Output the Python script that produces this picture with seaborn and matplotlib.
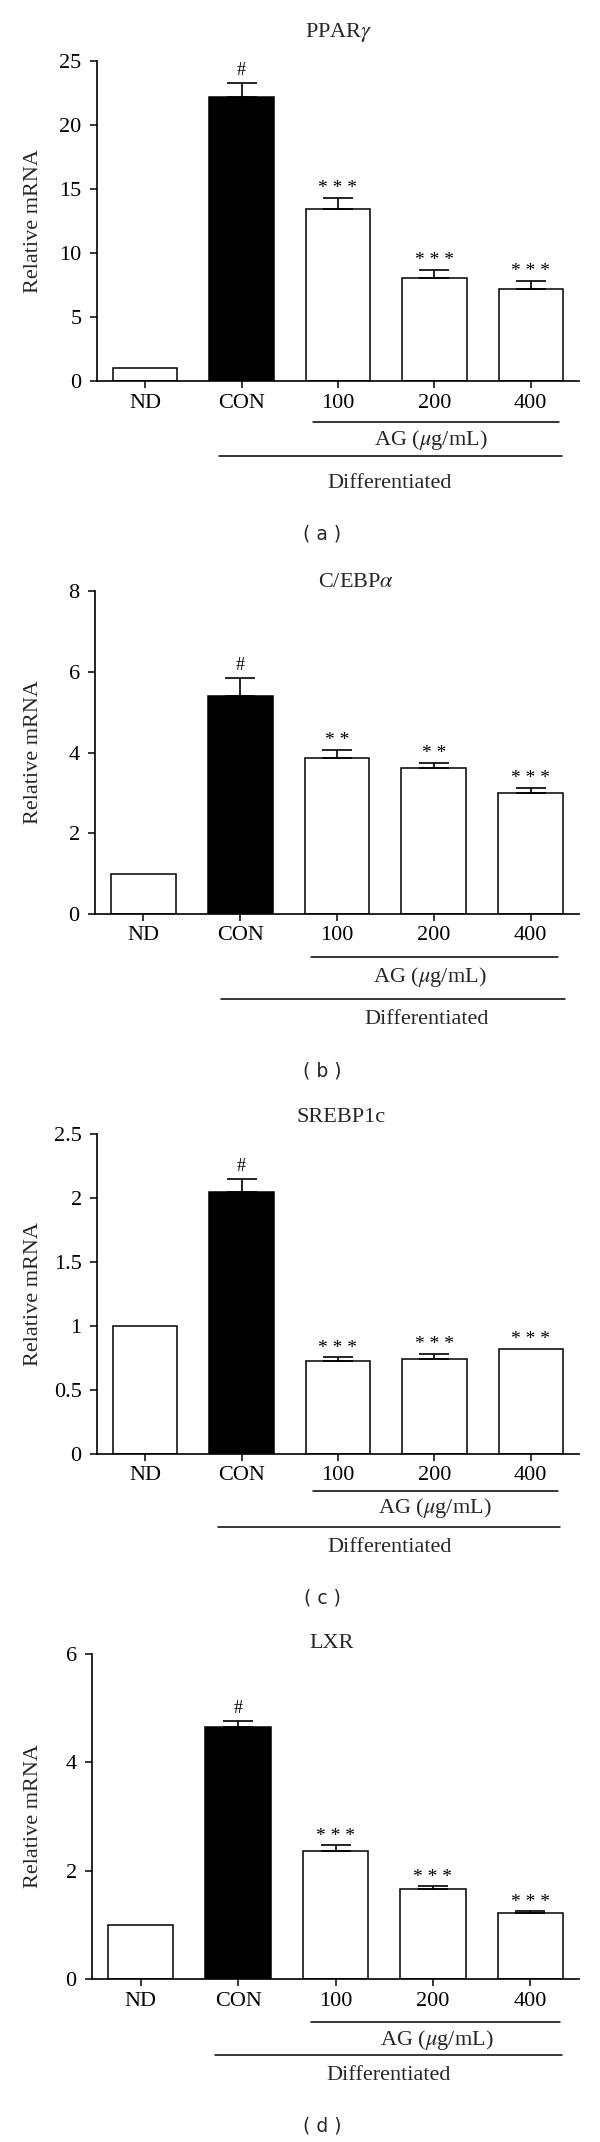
import matplotlib
matplotlib.use("Agg")
import matplotlib.pyplot as plt
from matplotlib.lines import Line2D
import numpy as np
import pandas as pd
import seaborn as sns

sns.set_theme(style="ticks")
plt.rcParams["font.family"] = ["Liberation Serif", "DejaVu Serif"]
plt.rcParams["mathtext.fontset"] = "stix"

# =====================================================
# DATA
# =====================================================

groups = ["ND", "CON", "100", "200", "400"]
bar_colors = ["white", "black", "white", "white", "white"]

ppar_mean = [1.0, 22.2, 13.4, 8.05, 7.15]
ppar_err = [0.0, 1.1, 0.9, 0.65, 0.7]
ppar_sig = ["", "#", "* * *", "* * *", "* * *"]

cebp_mean = [1.0, 5.41, 3.86, 3.62, 2.99]
cebp_err = [0.0, 0.44, 0.2, 0.13, 0.14]
cebp_sig = ["", "#", "* *", "* *", "* * *"]

srebp_mean = [1.0, 2.05, 0.73, 0.74, 0.82]
srebp_err = [0.0, 0.10, 0.025, 0.04, 0.0]
srebp_sig = ["", "#", "* * *", "* * *", "* * *"]

lxr_mean = [1.0, 4.65, 2.36, 1.66, 1.22]
lxr_err = [0.0, 0.11, 0.11, 0.05, 0.03]
lxr_sig = ["", "#", "* * *", "* * *", "* * *"]

titles = [r"PPAR$\gamma$", r"C/EBP$\alpha$", "SREBP1c", "LXR"]
panel_tags = ["( a )", "( b )", "( c )", "( d )"]
y_limits = [25, 8, 2.5, 6]
y_ticks = [
    [0, 5, 10, 15, 20, 25],
    [0, 2, 4, 6, 8],
    [0, 0.5, 1, 1.5, 2, 2.5],
    [0, 2, 4, 6],
]
y_ticklabels = [
    ["0", "5", "10", "15", "20", "25"],
    ["0", "2", "4", "6", "8"],
    ["0", "0.5", "1", "1.5", "2", "2.5"],
    ["0", "2", "4", "6"],
]

# =====================================================
# LAYOUT (pixels in a 600 x 2142 canvas)
# =====================================================

W, H = 600, 2142

# left, right, top, bottom of each axes
boxes = [
    (97, 579, 61, 381),
    (95, 579, 591, 914),
    (97, 579, 1134, 1454),
    (92, 579, 1654, 1979),
]
# title (x, y)
title_pos = [(339, 33), (356, 583), (341, 1117), (332, 1644)]
# AG line y, AG text y, Differentiated line y, Differentiated text y, tag y
under_y = [
    (422, 440, 456, 483, 534),
    (957, 977, 999, 1019, 1071),
    (1491, 1508, 1527, 1548, 1598),
    (2022, 2040, 2055, 2075, 2126),
]
# AG line x0, x1, AG text x, Diff line x0, x1, Diff text x
under_x = [
    (313, 559, 431, 219, 562, 390),
    (311, 558, 430, 221, 565, 427),
    (313, 558, 435, 218, 560, 390),
    (311, 560, 437, 215, 562, 389),
]


def fx(px):
    return px / W


def fy(py):
    return 1 - py / H


def draw_panel(fig, i, mean, err, sig):
    left, right, top, bottom = boxes[i]
    ax = fig.add_axes([fx(left), fy(bottom), (right - left) / W, (bottom - top) / H])

    df = pd.DataFrame({"group": groups, "value": mean})
    sns.barplot(
        data=df,
        x="group",
        y="value",
        hue="group",
        palette=dict(zip(groups, bar_colors)),
        saturation=1,
        width=0.67,
        edgecolor="black",
        linewidth=1.1,
        errorbar=None,
        legend=False,
        ax=ax,
    )

    x = np.arange(len(groups))
    mean = np.array(mean)
    err = np.array(err)
    has_err = err > 0
    ax.errorbar(
        x[has_err],
        mean[has_err],
        yerr=[np.zeros(has_err.sum()), err[has_err]],
        fmt="none",
        ecolor="black",
        elinewidth=1.2,
        capsize=10.5,
        capthick=1.2,
        zorder=3,
    )

    # significance marks
    for k, s in enumerate(sig):
        if not s:
            continue
        is_hash = s == "#"
        ax.annotate(
            s,
            xy=(k, mean[k] + err[k]),
            xytext=(0, 3 if is_hash else 0.5),
            textcoords="offset points",
            ha="center",
            va="bottom",
            fontsize=13 if is_hash else 14,
            color="black",
        )

    ax.set_xlim(-0.5, 4.5)
    ax.set_ylim(0, y_limits[i])
    ax.set_yticks(y_ticks[i], y_ticklabels[i])
    ax.set_xticks(x, groups)
    ax.set_xlabel("")
    ax.set_ylabel("")

    sns.despine(ax=ax)
    for side in ["left", "bottom"]:
        ax.spines[side].set_linewidth(1.2)
        ax.spines[side].set_color("black")
    ax.tick_params(axis="both", direction="out", length=5, width=1.1,
                   colors="black", labelsize=16)
    ax.tick_params(axis="y", pad=6)
    ax.tick_params(axis="x", pad=4)

    # text around the axes
    tx, ty = title_pos[i]
    fig.text(fx(tx), fy(ty), titles[i], ha="center", va="center", fontsize=16)
    fig.text(fx(33), fy((top + bottom) / 2), "Relative mRNA", rotation=90,
             ha="center", va="center", fontsize=16)

    ag_ly, ag_ty, df_ly, df_ty, tag_y = under_y[i]
    ag_x0, ag_x1, ag_tx, df_x0, df_x1, df_tx = under_x[i]
    fig.add_artist(Line2D([fx(ag_x0), fx(ag_x1)], [fy(ag_ly), fy(ag_ly)],
                          transform=fig.transFigure, color="black", lw=1.1))
    fig.text(fx(ag_tx), fy(ag_ty), r"AG ($\mu$g/mL)", ha="center", va="center",
             fontsize=16)
    fig.add_artist(Line2D([fx(df_x0), fx(df_x1)], [fy(df_ly), fy(df_ly)],
                          transform=fig.transFigure, color="black", lw=1.1))
    fig.text(fx(df_tx), fy(df_ty), "Differentiated", ha="center", va="center",
             fontsize=16)
    fig.text(fx(322), fy(tag_y), panel_tags[i], ha="center", va="center",
             fontsize=13.5, family="DejaVu Sans")


fig = plt.figure(figsize=(W / 100, H / 100), dpi=100)
fig.patch.set_facecolor("white")

draw_panel(fig, 0, ppar_mean, ppar_err, ppar_sig)
draw_panel(fig, 1, cebp_mean, cebp_err, cebp_sig)
draw_panel(fig, 2, srebp_mean, srebp_err, srebp_sig)
draw_panel(fig, 3, lxr_mean, lxr_err, lxr_sig)

fig.savefig("out.png", dpi=100, facecolor="white")
plt.close(fig)
